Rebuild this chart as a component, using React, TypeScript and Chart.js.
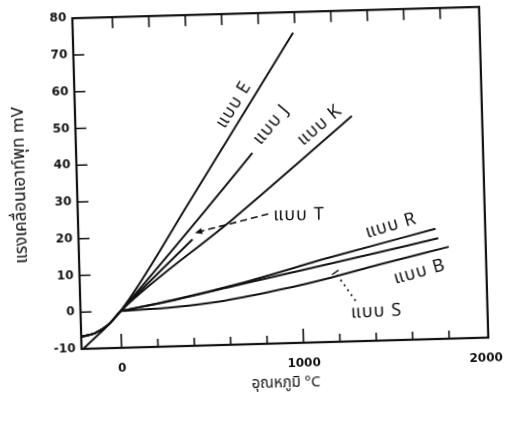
import React, { useEffect, useRef } from "react";
import { Chart, registerables } from "chart.js";

Chart.register(...registerables);

// ---- data (temperature °C, EMF mV) ----
const typeE: [number, number][] = [[-210, -10], [0, 0], [400, 29.6], [990, 74.4]];
const typeJ: [number, number][] = [[-215, -6.7], [-144, -5.8], [-71, -3.7], [0, 0], [528, 29.4], [748, 42.0]];
const typeK: [number, number][] = [[-217, -6.6], [-144, -5.8], [-71, -3.7], [0, 0], [634, 24.3], [1300, 51.3]];
const typeT: [number, number][] = [[-217, -6.6], [-144, -5.8], [-71, -3.7], [0, 0], [406, 19.0]];
const typeR: [number, number][] = [[0, 0], [300, 2.7], [660, 6.6], [1150, 12.9], [1742, 20.0]];
const typeS: [number, number][] = [[0, 0], [300, 2.6], [660, 6.3], [1150, 11.2], [1756, 17.4]];
const typeB: [number, number][] = [[0, 0], [300, 0.7], [567, 2.0], [900, 4.8], [1160, 7.5], [1420, 10.6], [1812, 15.0]];

const SERIES_NAMES = ["แบบ E", "แบบ J", "แบบ K", "แบบ T", "แบบ R", "แบบ S", "แบบ B"];
const SERIES_DATA = [typeE, typeJ, typeK, typeT, typeR, typeS, typeB];

const X_LABEL_TICKS = [0, 1000, 2000];
const X_MARK_TICKS = [0, 200, 400, 600, 800, 1000, 1200, 1400, 1600, 1800];
const X_MAJOR_MARKS = [0, 1000];
const Y_TICKS = [-10, 0, 10, 20, 30, 40, 50, 60, 70, 80];
const Y_MARK_TICKS = [0, 10, 20, 30, 40, 50, 60, 70];

const X_TITLE = "อุณหภูมิ °C";
const Y_TITLE = "แรงเคลื่อนเอาท์พุท mV";

// ---- annotation placement (data coordinates) ----
const LABELS = [
  { text: "แบบ E", x: 660, y: 55.0, angle: -56.6 },
  { text: "แบบ J", x: 862, y: 49.3, angle: -48.6 },
  { text: "แบบ K", x: 1127, y: 48.7, angle: -38.6 },
  { text: "แบบ T", x: 994, y: 24.4, angle: 1 },
  { text: "แบบ R", x: 1500, y: 20.8, angle: -15 },
  { text: "แบบ B", x: 1650, y: 8.0, angle: -14 },
  { text: "แบบ S", x: 1405, y: -2.5, angle: -1 },
];
const T_ARROW = { from: [826, 25.3], to: [420, 20.7] };
const S_POINTER = { from: [1292, 1.0], to: [1185, 8.9] };

const INK = "#111";
const THAI_FONT = "'Noto Sans Thai', 'Noto Sans', 'DejaVu Sans', sans-serif";
const NUM_FONT = "'DejaVu Sans', sans-serif";

const framePlugin = {
  id: "frameTicks",
  afterDraw(chart: any) {
    const { ctx, chartArea: a, scales } = chart;
    const xs = scales.x, ys = scales.y;
    ctx.save();
    ctx.strokeStyle = INK;
    ctx.lineWidth = 2.2;
    ctx.strokeRect(a.left, a.top, a.right - a.left, a.bottom - a.top);
    ctx.lineWidth = 1.6;
    ctx.beginPath();
    for (const v of X_MARK_TICKS) {
      const px = xs.getPixelForValue(v);
      const len = X_MAJOR_MARKS.includes(v) ? 14 : 8;
      ctx.moveTo(px, a.bottom);
      ctx.lineTo(px, a.bottom - len);
      ctx.moveTo(px, a.top);
      ctx.lineTo(px, a.top + 11);
    }
    for (const v of Y_MARK_TICKS) {
      const py = ys.getPixelForValue(v);
      ctx.moveTo(a.left, py);
      ctx.lineTo(a.left + 11, py);
    }
    ctx.stroke();
    ctx.restore();
  },
};

const labelPlugin = {
  id: "seriesLabels",
  afterDatasetsDraw(chart: any) {
    const { ctx, scales } = chart;
    const xs = scales.x, ys = scales.y;
    const P = (p: number[]) => [xs.getPixelForValue(p[0]), ys.getPixelForValue(p[1])];
    ctx.save();
    ctx.fillStyle = INK;
    ctx.strokeStyle = INK;
    ctx.font = `18px ${THAI_FONT}`;
    (ctx as any).letterSpacing = "1px";
    ctx.textAlign = "center";
    ctx.textBaseline = "middle";
    for (const l of LABELS) {
      ctx.save();
      ctx.translate(xs.getPixelForValue(l.x), ys.getPixelForValue(l.y));
      ctx.rotate((l.angle * Math.PI) / 180);
      ctx.fillText(l.text, 0, 0);
      ctx.restore();
    }
    // dashed arrow for T
    const [ax, ay] = P(T_ARROW.from);
    const [bx, by] = P(T_ARROW.to);
    ctx.lineWidth = 1.6;
    ctx.setLineDash([7, 4]);
    ctx.beginPath();
    ctx.moveTo(ax, ay);
    ctx.lineTo(bx, by);
    ctx.stroke();
    ctx.setLineDash([]);
    const ang = Math.atan2(by - ay, bx - ax);
    ctx.beginPath();
    ctx.moveTo(bx, by);
    ctx.lineTo(bx - 8 * Math.cos(ang - 0.4), by - 8 * Math.sin(ang - 0.4));
    ctx.lineTo(bx - 8 * Math.cos(ang + 0.4), by - 8 * Math.sin(ang + 0.4));
    ctx.closePath();
    ctx.fill();
    // dotted pointer for S
    const [cx, cy] = P(S_POINTER.from);
    const [dx, dy] = P(S_POINTER.to);
    ctx.lineWidth = 1.8;
    ctx.setLineDash([2, 4]);
    ctx.beginPath();
    ctx.moveTo(cx, cy);
    ctx.lineTo(dx, dy);
    ctx.stroke();
    ctx.setLineDash([]);
    const a2 = Math.atan2(dy - cy, dx - cx) + Math.PI / 2;
    ctx.lineWidth = 1.4;
    ctx.beginPath();
    ctx.moveTo(dx - 4 * Math.cos(a2), dy - 4 * Math.sin(a2));
    ctx.lineTo(dx + 4 * Math.cos(a2), dy + 4 * Math.sin(a2));
    ctx.stroke();
    ctx.restore();
  },
};

export default function App() {
  const ref = useRef<HTMLCanvasElement>(null);
  useEffect(() => {
    const canvas = ref.current;
    if (!canvas) return;
    const datasets = SERIES_DATA.map((pts, i) => ({
      label: SERIES_NAMES[i],
      data: pts.map(([x, y]) => ({ x, y })),
      borderColor: INK,
      borderWidth: 2,
      pointRadius: 0,
      fill: false,
      cubicInterpolationMode: "monotone" as const,
    }));
    const chart = new Chart(canvas, {
      type: "line",
      data: { datasets },
      options: {
        animation: false,
        responsive: false,
        layout: { padding: { left: 0, top: 12, right: 23, bottom: 0 } },
        plugins: { legend: { display: false }, tooltip: { enabled: false } },
        scales: {
          x: {
            type: "linear",
            min: -220,
            max: 2015,
            afterBuildTicks: (s: any) => {
              s.ticks = X_LABEL_TICKS.map((v) => ({ value: v }));
            },
            ticks: {
              font: { family: NUM_FONT, size: 12, weight: "bold" },
              color: INK,
              padding: 14,
              maxRotation: 0,
              autoSkip: false,
              callback: (v: any) => String(v),
            },
            grid: { display: false, drawTicks: false },
            border: { display: false },
            title: {
              display: true,
              text: X_TITLE,
              font: { family: THAI_FONT, size: 15 },
              color: INK,
              padding: { top: 0, bottom: 44 },
            },
            afterFit: (s: any) => {
              s.height = 94;
            },
          },
          y: {
            type: "linear",
            min: -10,
            max: 80,
            afterBuildTicks: (s: any) => {
              s.ticks = Y_TICKS.map((v) => ({ value: v }));
            },
            ticks: {
              font: { family: NUM_FONT, size: 12, weight: "bold" },
              color: INK,
              padding: 6,
              callback: (v: any) => String(v),
            },
            grid: { display: false, drawTicks: false },
            border: { display: false },
            title: {
              display: true,
              text: Y_TITLE,
              font: { family: THAI_FONT, size: 17 },
              color: INK,
              padding: { top: 12, bottom: 0 },
            },
            afterFit: (s: any) => {
              s.width = 78;
            },
          },
        },
      },
      plugins: [framePlugin, labelPlugin],
    });
    return () => chart.destroy();
  }, []);

  return (
    <div
      style={{
        position: "fixed",
        left: 0,
        top: 0,
        width: 513,
        height: 438,
        background: "#fff",
        overflow: "hidden",
      }}
    >
      <canvas
        ref={ref}
        width={513}
        height={438}
        style={{ display: "block", width: 513, height: 438, transform: "rotate(-1.6deg)" }}
      />
    </div>
  );
}
